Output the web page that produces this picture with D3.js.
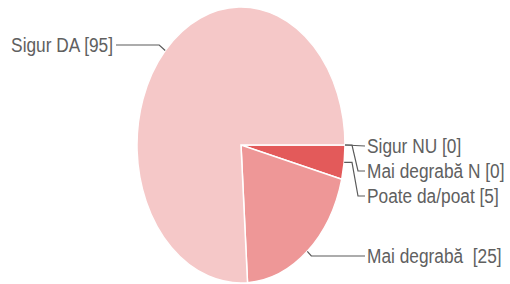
<!DOCTYPE html>
<html>
<head>
<meta charset="utf-8">
<script src="https://cdn.jsdelivr.net/npm/d3@7"></script>
<style>
  body { margin: 0; background: #fff; }
  text { font-family: 'Liberation Sans', Arial, sans-serif; white-space: pre; }
</style>
</head>
<body>
<div id="chart"></div>
<script>
// answers, in drawing order (clockwise from 3 o'clock)
const labels = ['Sigur NU', 'Mai degrabă N', 'Poate da/poat', 'Mai degrabă ', 'Sigur DA'];
const counts = [0, 0, 5, 25, 95];
const colors = ['#d94545', '#e04f4f', '#e35a5a', '#ee9797', '#f5c8c8'];

// label layout (side, y of label line)
const labelSide = ['r', 'r', 'r', 'r', 'l'];
const labelY = [146, 171, 196, 256, 45];

const width = 510;
const height = 284;
const cx = 241;
const cy = 145;
const rx = 104;
const ry = 138;

const svg = d3.select('#chart').append('svg')
  .attr('width', width)
  .attr('height', height);

const pie = d3.pie()
  .sort(null)
  .value((d) => d)
  .startAngle(Math.PI / 2)
  .endAngle(Math.PI / 2 + 2 * Math.PI);

const arcs = pie(counts);

const arc = d3.arc().innerRadius(0).outerRadius(rx);

const pieG = svg.append('g')
  .attr('transform', `translate(${cx},${cy}) scale(1,${ry / rx})`);

pieG.selectAll('path')
  .data(arcs)
  .join('path')
  .attr('d', arc)
  .attr('fill', (d, i) => colors[i])
  .attr('stroke', '#fff')
  .attr('stroke-width', 1.5)
  .attr('vector-effect', 'non-scaling-stroke');

// leader lines
function edgePoint(d) {
  const a = (d.startAngle + d.endAngle) / 2;
  return [cx + rx * Math.sin(a), cy - ry * Math.cos(a)];
}

const leaders = arcs.map((d, i) => {
  const [ex, ey] = edgePoint(d);
  const y = labelY[i];
  if (labelSide[i] === 'l') {
    return [[ex, ey], [ex - 6, y], [116, y]];
  }
  if (Math.abs(ey - y) < 4) return [[ex, ey], [365, y]];
  if (ey > 240) return [[ex, ey], [ex + 4, y], [365, y]];
  return [[ex, ey], [352, ey], [358, y], [365, y]];
});

svg.append('g')
  .selectAll('path')
  .data(leaders)
  .join('path')
  .attr('d', d3.line())
  .attr('fill', 'none')
  .attr('stroke', '#5a5a5a')
  .attr('stroke-width', 1.2);

svg.append('g')
  .selectAll('text')
  .data(arcs)
  .join('text')
  .attr('transform', (d, i) => `translate(${labelSide[i] === 'l' ? 113 : 367},${labelY[i]}) scale(1,1.12)`)
  .attr('dy', '0.36em')
  .attr('text-anchor', (d, i) => (labelSide[i] === 'l' ? 'end' : 'start'))
  .attr('font-size', 17.3)
  .attr('fill', '#606060')
  .text((d, i) => `${labels[i]} [${counts[i]}]`);
</script>
</body>
</html>
